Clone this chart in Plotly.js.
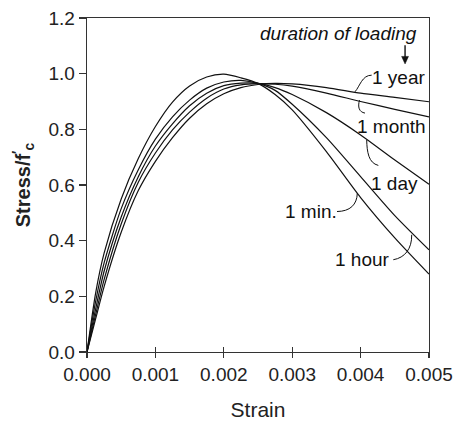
<!DOCTYPE html>
<html>
<head>
<meta charset="utf-8">
<script src="https://cdn.plot.ly/plotly-3.0.1.min.js"></script>
<style>html,body{margin:0;padding:0;background:#fff;}#chart{width:463px;height:422px;}</style>
</head>
<body>
<div id="chart"></div>
<script>
// Strain grid (common to all curves)
var strain = [0, 0.000125, 0.00025, 0.0005, 0.00075, 0.001, 0.00125, 0.0015, 0.00175, 0.002, 0.00225, 0.0025, 0.00275, 0.003, 0.0035, 0.004, 0.0045, 0.005];
// Stress / f'c for each duration of loading
var stressMin   = [0, 0.21, 0.355, 0.55, 0.695, 0.81, 0.898, 0.956, 0.988, 0.998, 0.985, 0.965, 0.925, 0.87, 0.72, 0.555, 0.41, 0.28];
var stressHour  = [0, 0.18, 0.32, 0.515, 0.655, 0.765, 0.845, 0.905, 0.948, 0.970, 0.976, 0.965, 0.94, 0.89, 0.77, 0.63, 0.49, 0.367];
var stressDay   = [0, 0.153, 0.29, 0.485, 0.63, 0.74, 0.82, 0.885, 0.93, 0.957, 0.966, 0.965, 0.95, 0.925, 0.86, 0.78, 0.69, 0.603];
var stressMonth = [0, 0.133, 0.26, 0.46, 0.61, 0.715, 0.798, 0.862, 0.912, 0.945, 0.96, 0.964, 0.962, 0.955, 0.93, 0.9, 0.872, 0.845];
var stressYear  = [0, 0.118, 0.235, 0.43, 0.58, 0.685, 0.77, 0.84, 0.892, 0.928, 0.95, 0.961, 0.965, 0.963, 0.95, 0.93, 0.915, 0.899];
var curveNames = ["1 min.", "1 hour", "1 day", "1 month", "1 year"];
var xTickVals = [0, 0.001, 0.002, 0.003, 0.004, 0.005];
var yTickVals = [0, 0.2, 0.4, 0.6, 0.8, 1.0, 1.2];

var series = [stressMin, stressHour, stressDay, stressMonth, stressYear];
var traces = series.map(function (s, i) {
  return {
    x: strain, y: s, name: curveNames[i], type: 'scatter', mode: 'lines',
    line: {color: '#111', width: 1.2, shape: 'spline', smoothing: 0.7},
    hoverinfo: 'x+y+name'
  };
});
// helper trace to carry the inner-tick overlay axis
traces.push({x: [0, 0.005], y: [0, 0], xaxis: 'x2', yaxis: 'y', mode: 'lines',
  line: {width: 0}, hoverinfo: 'skip', showlegend: false});

var F = "Liberation Sans, Arial, sans-serif";
var labelFont = {family: F, size: 19, color: '#111'};

function leader(p) {
  return {type: 'path', xref: 'x', yref: 'y',
    path: 'M' + p[0] + ',' + p[1] + ' C' + p[2] + ',' + p[3] + ' ' + p[4] + ',' + p[5] + ' ' + p[6] + ',' + p[7],
    line: {color: '#111', width: 1}};
}

var layout = {
  width: 463, height: 422,
  margin: {l: 87, r: 34, t: 18, b: 70},
  paper_bgcolor: '#fff', plot_bgcolor: '#fff',
  showlegend: false,
  font: {family: F, size: 19, color: '#222'},
  xaxis: {
    range: [0, 0.005], tickvals: xTickVals, tickformat: '.3f',
    ticks: 'outside', ticklen: 5, tickwidth: 1.2, tickcolor: '#333',
    showline: true, linecolor: '#333', linewidth: 1.3, mirror: true,
    showgrid: false, zeroline: false,
    tickfont: {family: F, size: 19, color: '#222'},
    title: {text: 'Strain', font: {family: F, size: 21, color: '#222'}, standoff: 18}
  },
  xaxis2: {
    range: [0, 0.005], overlaying: 'x', anchor: 'y', side: 'bottom',
    tickvals: xTickVals, ticks: 'inside', ticklen: 5, tickwidth: 1.2, tickcolor: '#333',
    showticklabels: false, showline: false, showgrid: false, zeroline: false
  },
  yaxis: {
    range: [0, 1.2], tickvals: yTickVals, tickformat: '.1f',
    ticks: 'outside', ticklen: 7, tickwidth: 1.2, tickcolor: '#333',
    showline: true, linecolor: '#333', linewidth: 1.3, mirror: true,
    showgrid: false, zeroline: false,
    tickfont: {family: F, size: 19, color: '#222'},
    title: {text: '<b>Stress/f<sup>′</sup><sub>c</sub></b>', font: {family: F, size: 20, color: '#222'}, standoff: 12}
  },
  annotations: [
    {x: 0.00368, y: 1.145, xref: 'x', yref: 'y', text: '<i>duration of loading</i>', showarrow: false, font: labelFont, xanchor: 'center', yanchor: 'middle'},
    {x: 0.00456, y: 0.988, xref: 'x', yref: 'y', text: curveNames[4], showarrow: false, font: labelFont},
    {x: 0.00445, y: 0.809, xref: 'x', yref: 'y', text: curveNames[3], showarrow: false, font: labelFont},
    {x: 0.0045, y: 0.606, xref: 'x', yref: 'y', text: curveNames[2], showarrow: false, font: labelFont},
    {x: 0.00327, y: 0.505, xref: 'x', yref: 'y', text: curveNames[0], showarrow: false, font: labelFont},
    {x: 0.00403, y: 0.334, xref: 'x', yref: 'y', text: curveNames[1], showarrow: false, font: labelFont}
  ],
  shapes: [
    // arrow under "duration of loading"
    {type: 'line', xref: 'x', yref: 'y', x0: 0.00465, x1: 0.00465, y0: 1.102, y1: 1.055, line: {color: '#111', width: 1.4}},
    {type: 'path', xref: 'x', yref: 'y', path: 'M0.00460,1.062 L0.00470,1.062 L0.00465,1.035 Z', fillcolor: '#111', line: {color: '#111', width: 0.5}},
    leader([0.004162, 0.9946, 0.004020, 0.9946, 0.003991, 0.9552, 0.003918, 0.9348]),
    leader([0.003984, 0.905, 0.003955, 0.880, 0.003977, 0.862, 0.004064, 0.8584]),
    leader([0.004089, 0.7616, 0.004094, 0.7186, 0.004115, 0.6792, 0.004259, 0.6703]),
    leader([0.003655, 0.5047, 0.003845, 0.5054, 0.003947, 0.5287, 0.003952, 0.5706]),
    leader([0.004478, 0.3315, 0.004649, 0.3387, 0.004751, 0.371, 0.004747, 0.4211])
  ]
};

Plotly.newPlot('chart', traces, layout, {displayModeBar: false, staticPlot: true});
</script>
</body>
</html>
